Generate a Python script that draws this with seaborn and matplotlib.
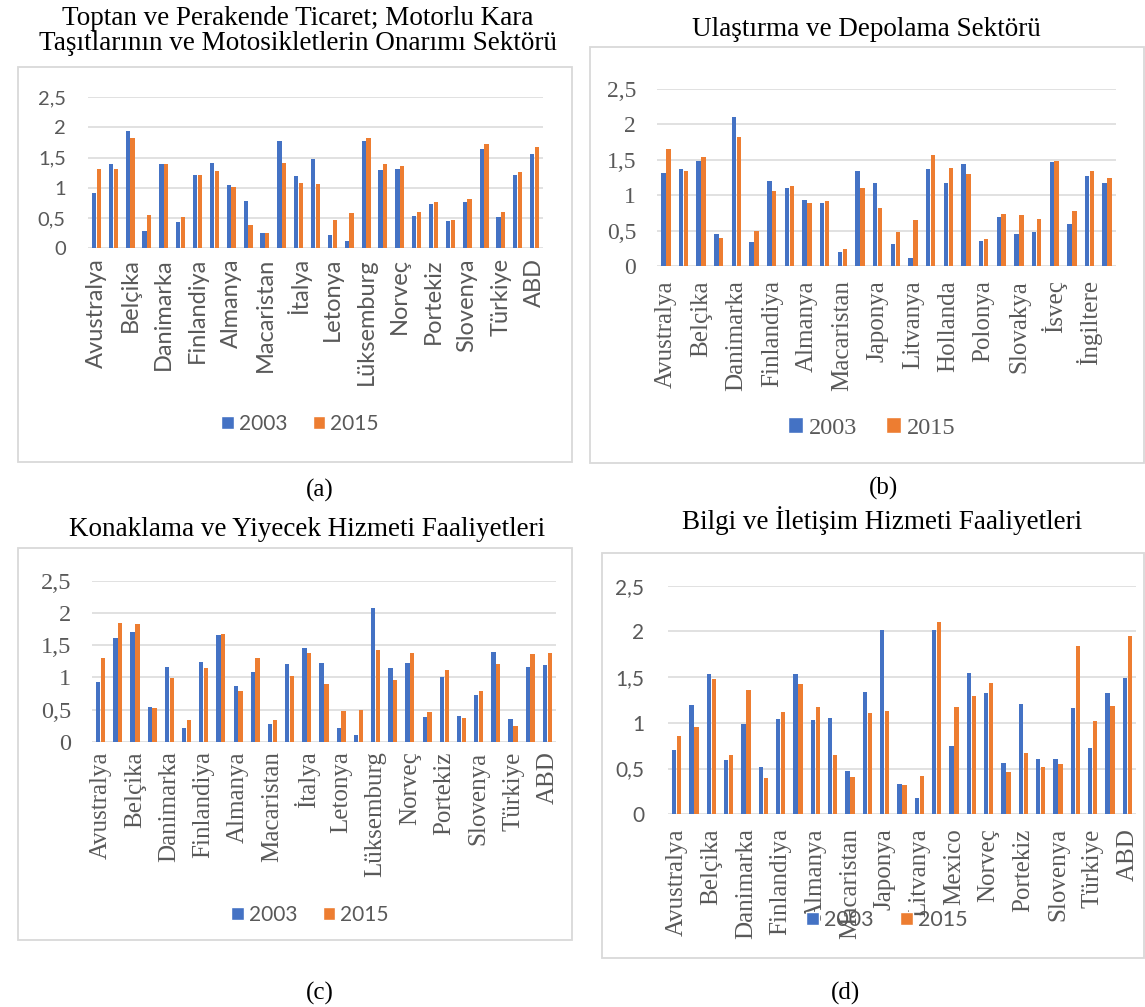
import matplotlib
matplotlib.use("Agg")
import matplotlib.pyplot as plt
from matplotlib.patches import Rectangle, Patch
import pandas as pd
import seaborn as sns

# ---------------------------------------------------------------- data
years = ["2003", "2015"]

countries_a = ["Avustralya", "Avusturya", "Belçika", "Kanada", "Danimarka", "Estonya",
               "Finlandiya", "Fransa", "Almanya", "Yunanistan", "Macaristan", "İrlanda",
               "İtalya", "Japonya", "Letonya", "Litvanya", "Lüksemburg", "Hollanda",
               "Norveç", "Polonya", "Portekiz", "Slovakya", "Slovenya", "İsveç",
               "Türkiye", "İngiltere", "ABD"]
a_2003 = [0.91, 1.39, 1.95, 0.29, 1.40, 0.43, 1.21, 1.42, 1.05, 0.78, 0.26, 1.77, 1.19, 1.48,
          0.22, 0.12, 1.77, 1.29, 1.31, 0.54, 0.73, 0.45, 0.76, 1.64, 0.51, 1.21, 1.56]
a_2015 = [1.31, 1.32, 1.83, 0.55, 1.39, 0.51, 1.21, 1.28, 1.02, 0.39, 0.26, 1.42, 1.08, 1.06,
          0.47, 0.59, 1.83, 1.40, 1.37, 0.60, 0.77, 0.47, 0.81, 1.72, 0.60, 1.27, 1.67]

countries_b = ["Avustralya", "Avusturya", "Belçika", "Çekya", "Danimarka", "Estonya",
               "Finlandiya", "Fransa", "Almanya", "Yunanistan", "Macaristan", "İtalya",
               "Japonya", "Letonya", "Litvanya", "Lüksemburg", "Hollanda", "Norveç",
               "Polonya", "Portekiz", "Slovakya", "Slovenya", "İsveç", "Türkiye",
               "İngiltere", "ABD"]
b_2003 = [1.32, 1.37, 1.48, 0.46, 2.10, 0.34, 1.20, 1.10, 0.94, 0.89, 0.20, 1.34, 1.18,
          0.32, 0.11, 1.37, 1.17, 1.44, 0.35, 0.70, 0.45, 0.48, 1.47, 0.60, 1.27, 1.17]
b_2015 = [1.65, 1.35, 1.54, 0.40, 1.83, 0.50, 1.06, 1.13, 0.89, 0.92, 0.25, 1.11, 0.82,
          0.48, 0.65, 1.57, 1.38, 1.30, 0.38, 0.74, 0.72, 0.67, 1.48, 0.78, 1.34, 1.24]

countries_c = ["Avustralya", "Avusturya", "Belçika", "Kanada", "Danimarka", "Estonya",
               "Finlandiya", "Fransa", "Almanya", "Yunanistan", "Macaristan", "İrlanda",
               "İtalya", "Japonya", "Letonya", "Litvanya", "Lüksemburg", "Hollanda",
               "Norveç", "Polonya", "Portekiz", "Slovakya", "Slovenya", "İsveç",
               "Türkiye", "İngiltere", "ABD"]
c_2003 = [0.92, 1.61, 1.71, 0.54, 1.16, 0.21, 1.23, 1.66, 0.87, 1.08, 0.27, 1.20, 1.45, 1.22,
          0.22, 0.11, 2.08, 1.15, 1.22, 0.39, 1.01, 0.40, 0.73, 1.40, 0.35, 1.16, 1.19]
c_2015 = [1.30, 1.84, 1.82, 0.53, 0.99, 0.34, 1.15, 1.67, 0.78, 1.30, 0.34, 1.02, 1.38, 0.90,
          0.48, 0.49, 1.43, 0.96, 1.38, 0.46, 1.11, 0.37, 0.78, 1.21, 0.25, 1.36, 1.37]

countries_d = ["Avustralya", "Avusturya", "Belçika", "Çekya", "Danimarka", "Estonya",
               "Finlandiya", "Fransa", "Almanya", "Yunanistan", "Macaristan", "İtalya",
               "Japonya", "Letonya", "Litvanya", "Lüksemburg", "Mexico", "Hollanda",
               "Norveç", "Polonya", "Portekiz", "Slovakya", "Slovenya", "İsveç",
               "Türkiye", "İngiltere", "ABD"]
d_2003 = [0.70, 1.20, 1.53, 0.59, 0.99, 0.52, 1.04, 1.53, 1.03, 1.05, 0.47, 1.34, 2.02, 0.33,
          0.18, 2.02, 0.75, 1.54, 1.33, 0.56, 1.21, 0.61, 0.61, 1.16, 0.72, 1.33, 1.49]
d_2015 = [0.86, 0.95, 1.48, 0.65, 1.36, 0.40, 1.12, 1.42, 1.17, 0.65, 0.41, 1.11, 1.13, 0.32,
          0.42, 2.10, 1.17, 1.29, 1.44, 0.46, 0.67, 0.52, 0.55, 1.84, 1.02, 1.18, 1.95]

y_ticks = [0, 0.5, 1, 1.5, 2, 2.5]
y_tick_labels = ["0", "0,5", "1", "1,5", "2", "2,5"]

titles = ["Toptan ve Perakende Ticaret; Motorlu Kara\nTaşıtlarının ve Motosikletlerin Onarımı Sektörü",
          "Ulaştırma ve Depolama Sektörü",
          "Konaklama ve Yiyecek Hizmeti Faaliyetleri",
          "Bilgi ve İletişim Hizmeti Faaliyetleri"]
captions = ["(a)", "(b)", "(c)", "(d)"]

# ---------------------------------------------------------------- style
BLUE = "#4472C4"
ORANGE = "#ED7D31"
GRID = "#D9D9D9"
TXT = "#595959"
SANS = ["Lato", "DejaVu Sans"]
SERIF = ["Liberation Serif", "DejaVu Serif"]

sns.set_style("white")
plt.rcParams["font.family"] = SERIF

W, H = 1145, 1007
fig = plt.figure(figsize=(W / 100, H / 100), dpi=100)


def px_axes(l, t, r, b):
    return fig.add_axes([l / W, 1 - b / H, (r - l) / W, (b - t) / H])


def px_box(l, t, r, b):
    fig.add_artist(Rectangle((l / W, 1 - b / H), (r - l) / W, (b - t) / H,
                             transform=fig.transFigure, fill=False,
                             edgecolor=GRID, linewidth=1.3))


def panel(ax, countries, v03, v15, yfont, yfs, xfont, xfs, ypad, xpad):
    n = len(countries)
    df = pd.DataFrame({"Ülke": countries * 2,
                       "Yıl": [years[0]] * n + [years[1]] * n,
                       "Değer": list(v03) + list(v15)})
    sns.barplot(data=df, x="Ülke", y="Değer", hue="Yıl", order=countries,
                hue_order=years, palette=[BLUE, ORANGE], saturation=1,
                width=0.56, gap=0.1, errorbar=None, linewidth=0,
                legend=False, ax=ax)
    ax.set_xlim(-0.5, n - 0.5)
    ax.set_ylim(0, 2.5)
    ax.set_xlabel("")
    ax.set_ylabel("")
    ax.set_yticks(y_ticks)
    ax.set_yticklabels(y_tick_labels, family=yfont, fontsize=yfs, color=TXT)
    ax.set_xticks(range(0, n, 2))
    ax.set_xticklabels(countries[::2], rotation=90, family=xfont,
                       fontsize=xfs, color=TXT, va="top", ha="center")
    ax.tick_params(axis="y", length=0, pad=ypad)
    ax.tick_params(axis="x", length=0, pad=xpad)
    ax.yaxis.grid(True, color=GRID, linewidth=1.1)
    ax.set_axisbelow(True)
    for s in ax.spines.values():
        s.set_visible(False)
    ax.patch.set_alpha(0)


def legend(cx, cy, font, fs):
    handles = [Patch(facecolor=BLUE, label=years[0]),
               Patch(facecolor=ORANGE, label=years[1])]
    fig.legend(handles=handles, loc="center", bbox_to_anchor=(cx / W, 1 - cy / H),
               ncol=2, frameon=False, handlelength=0.6, handleheight=0.6,
               handletextpad=0.25, columnspacing=1.2,
               prop={"family": font, "size": fs}, labelcolor=TXT)


# panel frames
px_box(18, 67, 572, 462)
px_box(590, 47, 1144, 463)
px_box(18, 548, 572, 940)
px_box(602, 553, 1144, 958)

# (a)
ax_a = px_axes(88, 97.3, 543, 248.3)
panel(ax_a, countries_a, a_2003, a_2015, SANS, 14.5, SANS, 17, 16, 7)
legend(300, 424, SANS, 15)

# (b)
ax_b = px_axes(657, 89, 1116, 266.3)
panel(ax_b, countries_b, b_2003, b_2015, SERIF, 17, SERIF, 18, 15, 10)
legend(872, 428, SERIF, 17.5)

# (c)
ax_c = px_axes(92, 580.7, 556, 741.7)
panel(ax_c, countries_c, c_2003, c_2015, SERIF, 17.5, SERIF, 18, 15, 7)
legend(310, 915, SANS, 15)

# (d)
ax_d = px_axes(668, 585.7, 1136, 814.3)
panel(ax_d, countries_d, d_2003, d_2015, SANS, 15, SERIF, 18, 17, 10)
legend(887, 920, SANS, 15.5)

# titles and captions
fig.text(298 / W, 1 - 31 / H, titles[0], ha="center", va="center",
         fontsize=19.5, family=SERIF, color="black", linespacing=1.02)
fig.text(866 / W, 1 - 29 / H, titles[1], ha="center", va="center",
         fontsize=19.5, family=SERIF, color="black")
fig.text(307 / W, 1 - 529 / H, titles[2], ha="center", va="center",
         fontsize=19.5, family=SERIF, color="black")
fig.text(882 / W, 1 - 521 / H, titles[3], ha="center", va="center",
         fontsize=19.5, family=SERIF, color="black")

for cap, (x, y) in zip(captions, [(320, 490), (884, 488), (320, 993), (845, 993)]):
    fig.text(x / W, 1 - y / H, cap, ha="center", va="center", fontsize=18,
             family=SERIF, color="black")

fig.savefig("out.png", dpi=100, facecolor="white")
